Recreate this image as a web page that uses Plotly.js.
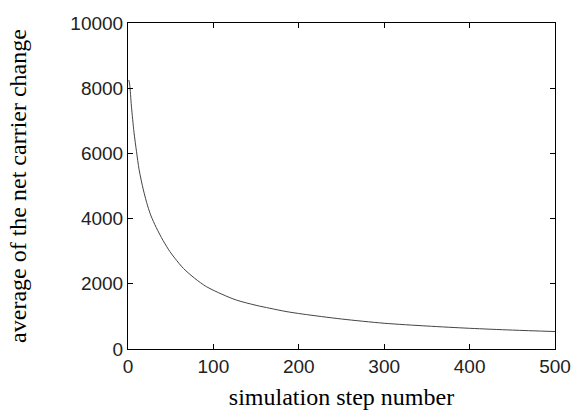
<!DOCTYPE html>
<html>
<head>
<meta charset="utf-8">
<script src="https://cdn.plot.ly/plotly-3.0.1.min.js"></script>
<style>html,body{margin:0;padding:0;background:#fff;}#chart{width:573px;height:417px;}</style>
</head>
<body>
<div id="chart"></div>
<script>
var stepNumber = [1, 2, 4, 7, 10, 13, 18, 23, 27, 33, 41, 49, 55, 65, 78, 92, 110, 127, 150, 166, 185, 205, 250, 300, 350, 400, 450, 500];
var avgNetChange = [8250, 8100, 7450, 6650, 6050, 5500, 4880, 4390, 4080, 3730, 3330, 2990, 2780, 2470, 2170, 1910, 1680, 1500, 1340, 1250, 1150, 1070, 920, 790, 705, 635, 580, 535];
var xTicks = [0, 100, 200, 300, 400, 500];
var yTicks = [0, 2000, 4000, 6000, 8000, 10000];

var trace = {
  x: stepNumber, y: avgNetChange, type: 'scatter', mode: 'lines',
  line: {color: '#444444', width: 1, shape: 'spline', smoothing: 0.8}, hoverinfo: 'none'
};
var axisCommon = {
  showgrid: false, zeroline: false, showline: true, linecolor: '#000', linewidth: 1,
  mirror: 'ticks', ticks: 'inside', ticklen: 5, tickcolor: '#000', tickwidth: 1,
  tickfont: {family: 'Liberation Sans, Arial, sans-serif', size: 19, color: '#222'}
};
var layout = {
  width: 573, height: 417,
  margin: {l: 128, r: 18, t: 23, b: 68},
  paper_bgcolor: '#fff', plot_bgcolor: '#fff',
  showlegend: false,
  xaxis: Object.assign({}, axisCommon, {
    range: [0, 500], tickvals: xTicks, ticktext: xTicks.map(String),
    title: {text: 'simulation step number', font: {family: 'Liberation Serif, Times New Roman, serif', size: 24, color: '#000'}, standoff: 12}
  }),
  yaxis: Object.assign({}, axisCommon, {
    range: [0, 10000], tickvals: yTicks, ticktext: yTicks.map(String),
    title: {text: 'average of the net carrier change', font: {family: 'Liberation Serif, Times New Roman, serif', size: 24, color: '#000'}, standoff: 36}
  })
};
Plotly.newPlot('chart', [trace], layout, {staticPlot: true, displayModeBar: false});
</script>
</body>
</html>
